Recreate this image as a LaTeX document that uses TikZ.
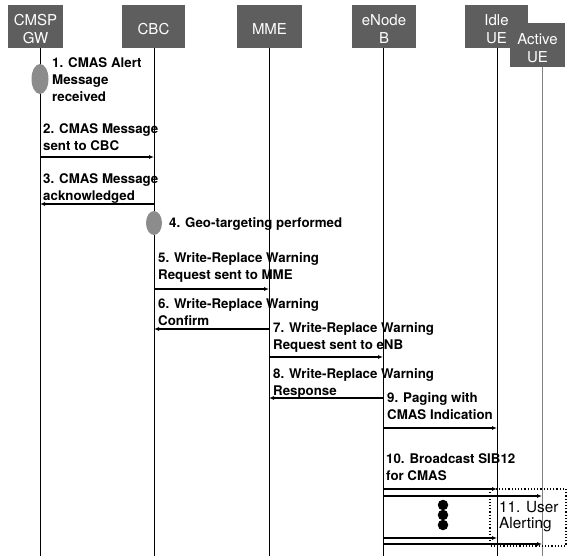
\documentclass[tikz,border=0pt]{standalone}
\usepackage{fontspec}
\setmainfont{TeX Gyre Heros}
\usetikzlibrary{shapes,arrows.meta}
\definecolor{hdrgray}{RGB}{94,94,94}
\definecolor{evtgray}{RGB}{140,140,140}

\begin{document}
\begin{tikzpicture}[x=1pt,y=-1pt,
   actor/.style={rectangle,fill=hdrgray,text=white,minimum height=43pt,inner sep=0pt,text height=34.5pt,align=center,font=\fontsize{15}{18}\selectfont},
   life/.style={line width=0.9pt},
   msg/.style={line width=1.4pt,-{Latex[length=5pt,width=4pt]}},
   lbl/.style={anchor=north west,inner sep=0pt,align=left,font=\bfseries\fontsize{13.3}{17}\selectfont},
   event/.style={ellipse,fill=evtgray,inner sep=0pt,minimum width=17pt},
   dot/.style={circle,fill,minimum size=10.5pt,inner sep=0pt}]
   \useasboundingbox (0,0) rectangle (571,559);
   \node[actor,minimum width=55pt] (gw)   at (35.5,26.5)  {CMSP\\GW};
   \node[actor,minimum width=63pt,text height=16.5pt] (cbc)  at (153.5,26.5) {CBC};
   \node[actor,minimum width=65pt,text height=16.5pt] (mme)  at (269.5,26.5) {MME};
   \node[actor,minimum width=64pt] (enb)  at (384,26.5)   {eNode\\B};
   \node[actor,minimum width=63pt] (idle) at (496.5,26.5) {Idle\\UE};
   \node[actor,minimum width=55pt,minimum height=44pt] (active) at (537.5,45) {Active\\UE};
   \coordinate (gwl)   at (40,48);
   \coordinate (cbcl)  at (154,48);
   \coordinate (mmel)  at (269,48);
   \coordinate (enbl)  at (383,48);
   \coordinate (idlel) at (497,48);
   \coordinate (actl)  at (542,67);
   \path[life]
   (gwl) edge (gwl |- 0,556)
   (cbcl) edge (cbcl |- 0,556)
   (mmel) edge (mmel |- 0,556)
   (enbl) edge (enbl |- 0,556)
   (idlel) edge (idlel |- 0,556)
   (actl) edge[draw=gray] (actl |- 0,556);
   \node[event,minimum height=30pt] (ev1) at (gwl |- 0,79) {};
   \node[event,minimum width=16pt,minimum height=24pt] (ev4) at (cbcl |- 0,223) {};
   \node[lbl] (t1) at (52,57)  {1. CMAS Alert\\Message\\received};
   \node[lbl] (t2) at (43,123) {2. CMAS Message\\sent to CBC};
   \node[lbl] (t3) at (43,173) {3. CMAS Message\\acknowledged};
   \node[lbl,anchor=base west] (t4) at (169,228) {4. Geo-targeting performed};
   \node[lbl] (t5) at (158,252) {5. Write-Replace Warning\\Request sent to MME};
   \node[lbl] (t6) at (158,298) {6. Write-Replace Warning\\Confirm};
   \node[lbl] (t7) at (273,322) {7. Write-Replace Warning\\Request sent to eNB};
   \node[lbl] (t8) at (273,368) {8. Write-Replace Warning\\Response};
   \node[lbl] (t9) at (387,392) {9. Paging with\\CMAS Indication};
   \node[lbl] (t10) at (386,453) {10. Broadcast SIB12\\for CMAS};
   \path[msg]
   (gwl |- 0,157) edge (cbcl |- 0,157)
   (cbcl |- 0,204) edge (gwl |- 0,204)
   (cbcl |- 0,289) edge (mmel |- 0,289)
   (mmel |- 0,329) edge (cbcl |- 0,329)
   (mmel |- 0,357) edge (enbl |- 0,357)
   (enbl |- 0,398) edge (mmel |- 0,398)
   (enbl |- 0,428) edge (idlel |- 0,428)
   (enbl |- 0,489) edge (idlel |- 0,489)
   (enbl |- 0,496) edge (actl |- 0,496)
   (enbl |- 0,538) edge (idlel |- 0,538)
   (enbl |- 0,544) edge (actl |- 0,544);
   \node[dot] (d1) at (443,505) {};
   \node[dot] (d2) at (443,515) {};
   \node[dot] (d3) at (443,525) {};
   \draw[dotted,line width=1.2pt] (490,489) rectangle (566,546);
   \node[lbl,font=\fontsize{15.3}{16.5}\selectfont] (t11) at (499,501) {11. User\\Alerting};
\end{tikzpicture}
\end{document}
